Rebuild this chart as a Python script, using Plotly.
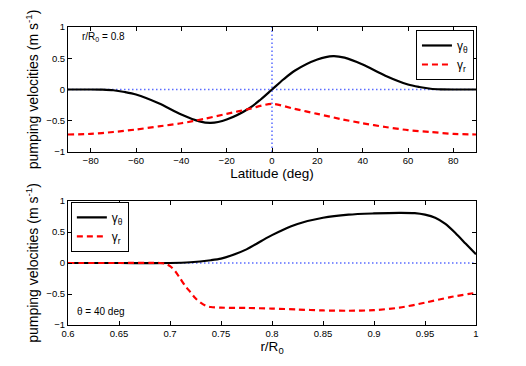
import plotly.graph_objects as go

# ---- top panel data (r/R0 = 0.8) ----
lat = [-90, -80, -75, -70, -65, -60, -50, -40, -32, -27, -20, -10, -5, 0, 5, 10, 20, 27, 32, 40, 50,
       60, 65, 70, 75, 80, 90]
gth_lat = [0, 0, -0.003, -0.012, -0.04, -0.08, -0.22, -0.40, -0.51, -0.535, -0.48, -0.30, -0.16, 0,
           0.16, 0.30, 0.48, 0.535, 0.51, 0.40, 0.22, 0.08, 0.04, 0.012, 0.003, 0, 0]
lat_r = [-90, -80, -70, -60, -50, -40, -30, -20, -10, 0, 10, 20, 30, 40, 50, 60, 70, 80, 90]
gr_lat = [-0.72, -0.71, -0.68, -0.64, -0.59, -0.54, -0.47, -0.39, -0.31, -0.23,
          -0.31, -0.39, -0.47, -0.54, -0.60, -0.65, -0.68, -0.71, -0.72]

# ---- bottom panel data (theta = 40 deg) ----
r_th = [0.6, 0.65, 0.70, 0.72, 0.74, 0.75, 0.76, 0.775, 0.79, 0.80, 0.81, 0.825, 0.85, 0.875,
        0.90, 0.925, 0.94, 0.95, 0.96, 0.97, 0.98, 0.99, 1.0]
gth_r = [0, 0, 0, 0.012, 0.045, 0.07, 0.12, 0.22, 0.36, 0.45, 0.53, 0.63, 0.73, 0.78,
         0.80, 0.81, 0.805, 0.78, 0.73, 0.63, 0.48, 0.31, 0.14]
r_r = [0.6, 0.65, 0.69, 0.695, 0.70, 0.705, 0.71, 0.715, 0.72, 0.725, 0.73, 0.735, 0.74, 0.75,
       0.775, 0.80, 0.825, 0.85, 0.875, 0.90, 0.925, 0.95, 0.975, 1.0]
gr_r = [0, 0, 0, -0.01, -0.05, -0.13, -0.25, -0.37, -0.47, -0.57, -0.64, -0.69, -0.71, -0.72,
        -0.725, -0.735, -0.75, -0.765, -0.77, -0.76, -0.72, -0.64, -0.55, -0.48]

# reference lines
lat_range = [-90, 90]
r_range = [0.6, 1.0]
zero = [0, 0]
y_full = [-1, 1]

lat_ticks = [-80, -60, -40, -20, 0, 20, 40, 60, 80]
r_ticks = [0.6, 0.65, 0.7, 0.75, 0.8, 0.85, 0.9, 0.95, 1]
y_ticks = [-1, -0.5, 0, 0.5, 1]

BLUE = "#5a6cff"
FONT = "Liberation Sans, Arial, sans-serif"
DOT = "1.5px,2.5px"

fig = go.Figure()
# top panel
fig.add_trace(go.Scatter(x=lat_range, y=zero, mode="lines", line=dict(color=BLUE, width=1.5, dash=DOT),
                         showlegend=False, xaxis="x", yaxis="y", hoverinfo="skip"))
fig.add_trace(go.Scatter(x=zero, y=y_full, mode="lines", line=dict(color=BLUE, width=1.5, dash=DOT),
                         showlegend=False, xaxis="x", yaxis="y", hoverinfo="skip"))
fig.add_trace(go.Scatter(x=lat, y=gth_lat, mode="lines", name="γ<sub>θ</sub>",
                         line=dict(color="black", width=2.2, shape="spline", smoothing=0.8),
                         xaxis="x", yaxis="y", legend="legend"))
fig.add_trace(go.Scatter(x=lat_r, y=gr_lat, mode="lines", name="γ<sub>r</sub>",
                         line=dict(color="red", width=2.2, dash="6px,4px", shape="spline", smoothing=0.8),
                         xaxis="x", yaxis="y", legend="legend"))
# bottom panel
fig.add_trace(go.Scatter(x=r_range, y=zero, mode="lines", line=dict(color=BLUE, width=1.5, dash=DOT),
                         showlegend=False, xaxis="x2", yaxis="y2", hoverinfo="skip"))
fig.add_trace(go.Scatter(x=r_th, y=gth_r, mode="lines", name="γ<sub>θ</sub>",
                         line=dict(color="black", width=2.2, shape="spline", smoothing=0.8),
                         xaxis="x2", yaxis="y2", legend="legend2"))
fig.add_trace(go.Scatter(x=r_r, y=gr_r, mode="lines", name="γ<sub>r</sub>",
                         line=dict(color="red", width=2.2, dash="6px,4px", shape="spline", smoothing=0.8),
                         xaxis="x2", yaxis="y2", legend="legend2"))

axis_common = dict(showline=True, linecolor="black", linewidth=1, mirror="ticks", ticks="inside",
                   ticklen=4, tickcolor="black", showgrid=False, zeroline=False, automargin=False,
                   tickfont=dict(family=FONT, size=9.5, color="black"))

top_dom = [0.5805, 1.0]
bot_dom = [0.0, 0.416]

fig.update_layout(
    width=526, height=366,
    margin=dict(l=68, r=50, t=27, b=41),
    paper_bgcolor="white", plot_bgcolor="white",
    font=dict(family=FONT, color="black"),
    xaxis=dict(domain=[0, 1], range=lat_range, tickvals=lat_ticks, anchor="y",
               title=dict(text="Latitude (deg)", font=dict(size=13.5), standoff=0), **axis_common),
    yaxis=dict(domain=top_dom, range=y_full, tickvals=y_ticks, anchor="x",
               title=dict(text="pumping velocities (m s<sup>-1</sup>)", font=dict(size=14), standoff=4),
               **axis_common),
    xaxis2=dict(domain=[0, 1], range=r_range, tickvals=r_ticks, anchor="y2",
                title=dict(text="r/R<sub>0</sub>", font=dict(size=13.5), standoff=0), **axis_common),
    yaxis2=dict(domain=bot_dom, range=y_full, tickvals=y_ticks, anchor="x2",
                title=dict(text="pumping velocities (m s<sup>-1</sup>)", font=dict(size=14), standoff=4),
                **axis_common),
    legend=dict(x=0.995, y=0.99, xanchor="right", yanchor="top", bgcolor="white",
                bordercolor="black", borderwidth=1, font=dict(size=12), tracegroupgap=0, itemwidth=30),
    legend2=dict(x=0.007, y=0.413, xanchor="left", yanchor="top", bgcolor="white",
                 bordercolor="black", borderwidth=1, font=dict(size=12), tracegroupgap=0, itemwidth=30),
    annotations=[
        dict(text="r/R<sub>0</sub> = 0.8", x=0.03, y=0.966, xref="paper", yref="paper",
             xanchor="left", yanchor="middle", showarrow=False, font=dict(size=10)),
        dict(text="θ = 40 deg", x=0.017, y=0.044, xref="paper", yref="paper",
             xanchor="left", yanchor="middle", showarrow=False, font=dict(size=10)),
    ],
)

fig.write_html("out.html", config={"displayModeBar": False},
               post_script="document.body.style.margin='0';")
